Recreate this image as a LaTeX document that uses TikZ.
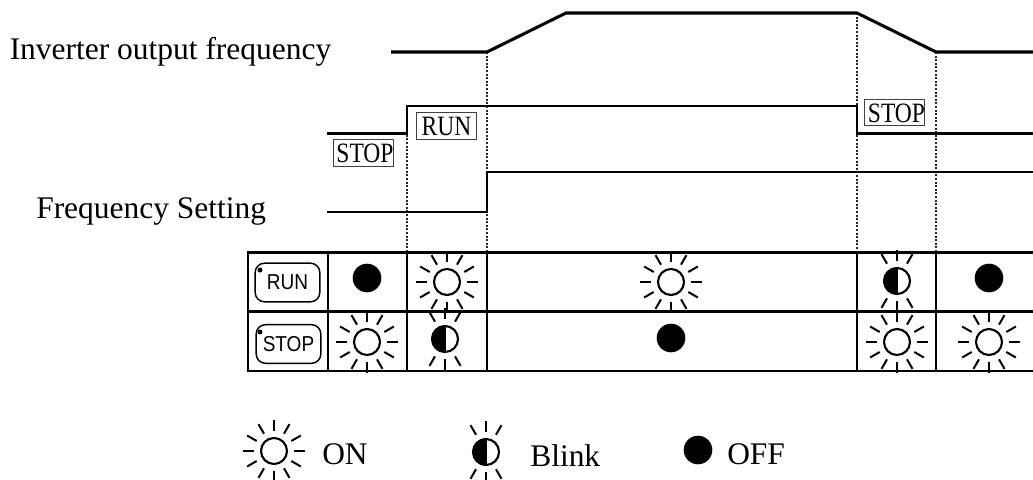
\documentclass[tikz,border=0pt]{standalone}
\usepackage{fontspec}
\setmainfont{Liberation Serif}
\setsansfont{Liberation Sans}
\tikzset{
  x=0.75pt,y=-0.75pt,
  wave/.style={line width=1.7pt,line cap=butt,line join=miter},
  wavetop/.style={line width=2.3pt,line join=miter},
  grid/.style={line width=2pt},
  guide/.style={line width=0.8pt,dash pattern=on 1.5pt off 1.2pt,black!85},
  lab/.style={inner sep=0pt,anchor=base west,font=\fontsize{23.6pt}{26pt}\selectfont},
  statebox/.style={draw=black!75,line width=0.75pt,minimum width=44.5pt,minimum height=20pt,inner sep=0pt,anchor=center},
  stlabel/.style={inner sep=0pt,anchor=center,font=\fontsize{21pt}{23pt}\selectfont},
  btn/.style={draw,line width=1.1pt,rounded corners=7pt,minimum width=48.5pt,minimum height=29pt,inner sep=0pt,font=\sffamily\fontsize{16.2pt}{18pt}\selectfont},
  ray/.style={line width=1.5pt,line cap=butt},
  pics/sun/.style={code={
    \draw[line width=1.6pt] (0,0) circle (13);
    \foreach \a in {0,30,...,330}{\draw[ray] (\a:20) -- (\a:31);}
  }},
  pics/dark/.style={code={\fill (0,0) circle (14.3);}},
  pics/blinky/.style={code={
    \fill (0,-13.5) arc (270:90:13.5) -- cycle;
    \draw[line width=1.6pt] (0,0) circle (13);
    \draw[line width=1.6pt] (0,-13.5) -- (0,13.5);
    \foreach \a in {60,90,120,240,270,300}{\draw[ray] (\a:20) -- (\a:31);}
  }},
}
\begin{document}
\begin{tikzpicture}
\useasboundingbox (0,0) rectangle (1033,479);
\begin{scope}
\clip (0,0) rectangle (1033,479);
% guide lines
\draw[guide] (407,106) -- (407,252);
\draw[guide] (487,52) -- (487,252);
\draw[guide] (857,13) -- (857,252);
\draw[guide] (936,52) -- (936,252);
% waveforms
\draw[wavetop] (391,52) -- (487,52) -- (566,13) -- (857,13) -- (936,52) -- (1033,52);
\draw[wave] (327,133.5) -- (407,133.5) -- (407,106) -- (857,106) -- (857,133.5) -- (1033,133.5);
\draw[wave] (327,212) -- (487,212) -- (487,172) -- (1033,172);
% table
\draw[grid] (247,252.5) -- (1033,252.5);
\draw[grid] (247,311.5) -- (1033,311.5);
\draw[grid] (247,371) -- (1033,371);
\foreach \x in {248,328,407,487,857,936}{\draw[grid] (\x,252.5) -- (\x,371);}
% labels
\node[lab] (inv) at (9.5,59.5) {Inverter output frequency};
\node[lab] (fs) at (36,218) {Frequency Setting};
% state boxes
\node[statebox] (stop1) at (363.5,153) {};
\node[stlabel] at (365,153.5) {\scalebox{.84}[1]{STOP}};
\node[statebox] (run1) at (446.5,126) {};
\node[stlabel] at (446.5,126.5) {\scalebox{.84}[1]{RUN}};
\node[statebox] (stop2) at (894.5,112.5) {};
\node[stlabel] at (896.5,113) {\scalebox{.84}[1]{STOP}};
% buttons
\node[btn] (runb) at (287.5,282.5) {\scalebox{.88}[1]{RUN}};
\node[btn] (stopb) at (288.5,344) {\scalebox{.88}[1]{STOP}};
\fill (260,270) circle (2.5);
\fill (260,332) circle (2.5);
% row 1
\pic at (367,278) {dark};
\pic at (447,282) {sun};
\pic at (671,282) {sun};
\pic at (897,281) {blinky};
\pic at (989,278) {dark};
% row 2
\pic at (367,342) {sun};
\pic at (445,339) {blinky};
\pic at (671,338) {dark};
\pic at (897,342) {sun};
\pic at (989,342) {sun};
% legend
\pic at (274,451) {sun};
\pic at (486,452) {blinky};
\pic at (698,450) {dark};
\node[lab] (on) at (322,464) {ON};
\node[lab] (bl) at (530,466) {Blink};
\node[lab] (off) at (727,464) {OFF};
\end{scope}
\end{tikzpicture}
\end{document}
